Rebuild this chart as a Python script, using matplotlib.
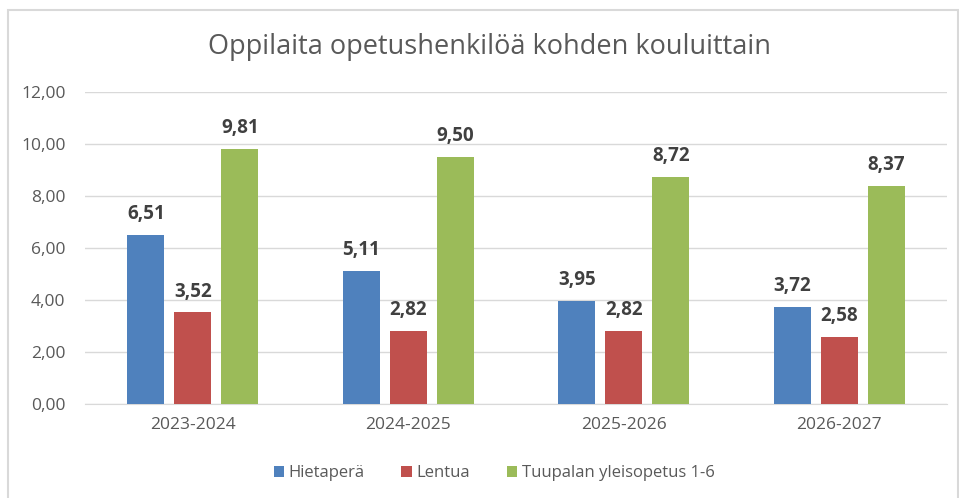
import matplotlib

matplotlib.use("Agg")
import matplotlib.pyplot as plt
import numpy as np
from matplotlib.patches import Patch, Rectangle

years = ["2023-2024", "2024-2025", "2025-2026", "2026-2027"]
series_names = ["Hietaperä", "Lentua", "Tuupalan yleisopetus 1-6"]
hietapera = [6.51, 5.11, 3.95, 3.72]
lentua = [3.52, 2.82, 2.82, 2.58]
tuupala = [9.81, 9.50, 8.72, 8.37]
y_ticks = [0, 2, 4, 6, 8, 10, 12]

colors = ["#4F81BD", "#C0504D", "#9BBB59"]
text_color = "#595959"

plt.rcParams["font.family"] = ["Open Sans", "DejaVu Sans"]

fig = plt.figure(figsize=(9.59, 4.98), dpi=100)
ax = fig.add_axes([85 / 959, 1 - 404 / 498, 862 / 959, 312 / 498])

# outer chart frame
fig.patches.append(Rectangle((8 / 959, -0.01), 950 / 959, 1 - 10 / 498 + 0.01,
                             transform=fig.transFigure, fill=False,
                             edgecolor="#D9D9D9", linewidth=1.5))

x = np.arange(len(years))
width = 0.172
step = 0.218
for i, (vals, c) in enumerate(zip([hietapera, lentua, tuupala], colors)):
    bars = ax.bar(x + (i - 1) * step, vals, width=width, color=c, zorder=3)
    for b, v in zip(bars, vals):
        ax.text(b.get_x() + b.get_width() / 2, v + 0.42, f"{v:.2f}".replace(".", ","),
                ha="center", va="bottom", fontsize=13.5, fontweight="bold",
                color="#404040")

ax.set_xlim(-0.5, len(years) - 0.5)
ax.set_ylim(0, 12)
ax.set_yticks(y_ticks)
ax.set_yticklabels([f"{t:.2f}".replace(".", ",") for t in y_ticks])
ax.set_xticks(x)
ax.set_xticklabels(years)
ax.tick_params(axis="both", length=0, labelsize=12.5, labelcolor=text_color)
ax.tick_params(axis="y", pad=14)
ax.tick_params(axis="x", pad=9)
ax.grid(axis="y", color="#D9D9D9", linewidth=1)
ax.set_axisbelow(True)
for s in ["top", "right", "left"]:
    ax.spines[s].set_visible(False)
ax.spines["bottom"].set_color("#D9D9D9")

fig.text(489 / 959, 1 - 47 / 498, "Oppilaita opetushenkilöä kohden kouluittain",
         ha="center", va="center", fontsize=19.5, color=text_color)

handles = [Patch(facecolor=c, label=n) for c, n in zip(colors, series_names)]
fig.legend(handles=handles, loc="center", bbox_to_anchor=(494 / 959, 1 - 473 / 498),
           ncol=3, frameon=False, fontsize=12, labelcolor=text_color,
           handlelength=0.65, handleheight=0.65, handletextpad=0.25, columnspacing=2.2)

fig.savefig("out.png", dpi=100)
